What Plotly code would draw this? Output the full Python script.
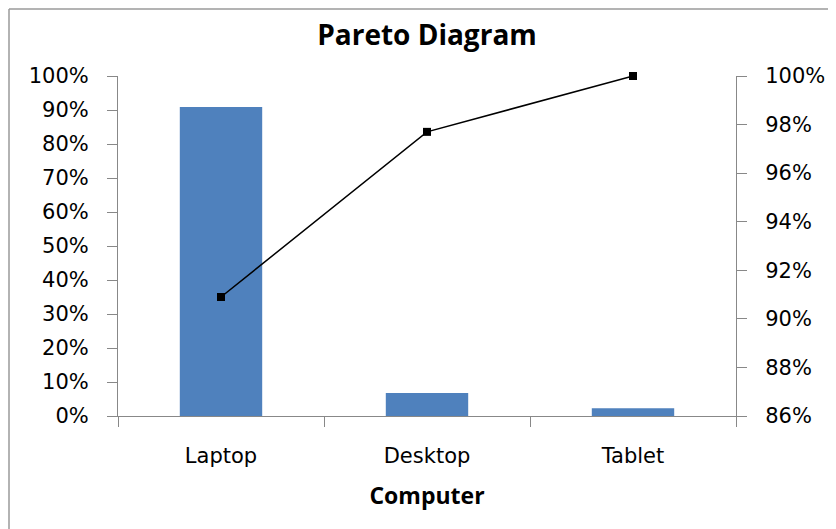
import plotly.graph_objects as go

categories = ["Laptop", "Desktop", "Tablet"]
share = [0.909, 0.068, 0.023]
cumulative = [0.909, 0.977, 1.0]

# page body adds an 8px offset; margins are set so the plot area lands
# at screen x 118..736, y 76..416
OFF = 8
W, H = 836, 529
ML, MR, MT, MB = 118 - OFF, 100 + OFF, 76 - OFF, 113 + OFF
PW, PH = W - ML - MR, H - MT - MB


def px_x(x):
    return (x - OFF - ML) / PW


def px_y(y):
    return (H - MB - (y - OFF)) / PH


fig = go.Figure()

fig.add_trace(
    go.Bar(
        x=categories,
        y=share,
        width=0.4,
        marker_color="#4F81BD",
        marker_line_width=0,
        yaxis="y",
    )
)

fig.add_trace(
    go.Scatter(
        x=categories,
        y=cumulative,
        mode="lines+markers",
        line=dict(color="black", width=1.5),
        marker=dict(symbol="square", size=8, color="black"),
        cliponaxis=False,
        yaxis="y2",
    )
)

tick_font = dict(family="DejaVu Sans", size=21, color="black")

fig.update_layout(
    width=W,
    height=H,
    margin=dict(l=ML, r=MR, t=MT, b=MB),
    plot_bgcolor="white",
    paper_bgcolor="white",
    showlegend=False,
    title=dict(
        text="<b>Pareto Diagram</b>",
        x=px_x(427),
        xref="paper",
        xanchor="center",
        y=1 - (35 - OFF) / H,
        yanchor="middle",
        font=dict(family="Open Sans", size=28, color="black"),
    ),
    xaxis=dict(
        showline=True,
        linecolor="#888888",
        linewidth=1,
        ticks="outside",
        tickson="boundaries",
        ticklen=10,
        tickcolor="#888888",
        tickfont=tick_font,
        ticklabelstandoff=21,
        showgrid=False,
        title=dict(
            text="<b>Computer</b>",
            font=dict(family="Open Sans", size=23, color="black"),
            standoff=20,
        ),
    ),
    yaxis=dict(
        range=[0, 1],
        dtick=0.1,
        tickformat=".0%",
        showline=True,
        linecolor="#888888",
        ticks="outside",
        ticklen=10,
        tickcolor="#888888",
        tickfont=tick_font,
        ticklabelstandoff=14,
        showgrid=False,
        zeroline=False,
    ),
    yaxis2=dict(
        range=[0.86, 1.0],
        dtick=0.02,
        tickformat=".0%",
        overlaying="y",
        side="right",
        showline=True,
        linecolor="#888888",
        ticks="outside",
        ticklen=10,
        tickcolor="#888888",
        tickfont=tick_font,
        ticklabelstandoff=14,
        showgrid=False,
        zeroline=False,
    ),
    shapes=[
        # outer frame of the chart area (as far as the page allows)
        dict(type="line", xref="paper", yref="paper",
             x0=px_x(OFF + 1), x1=px_x(OFF + 1), y0=px_y(OFF + 1), y1=px_y(H + 20),
             line=dict(color="#9a9a9a", width=1.5)),
        dict(type="line", xref="paper", yref="paper",
             x0=px_x(OFF + 1), x1=px_x(W + 20), y0=px_y(OFF + 1), y1=px_y(OFF + 1),
             line=dict(color="#9a9a9a", width=1.5)),
    ],
)

fig.write_html("out.html")
